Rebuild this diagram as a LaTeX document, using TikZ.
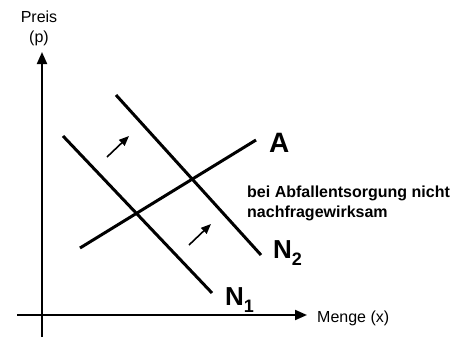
\documentclass[tikz,border=0pt]{standalone}
\usepackage{fontspec}
\setmainfont{Liberation Sans}
\usetikzlibrary{arrows.meta}

\newcommand{\kurve}[1]{N\raisebox{-7pt}{\fontsize{18}{18}\selectfont #1}}

\begin{document}
\begin{tikzpicture}[x=1pt, y=-1pt,
    achse/.style={line width=2pt, -{Triangle[length=12pt,width=10pt]}},
    gerade/.style={line width=3pt},
    schub/.style={line width=1.6pt, -{Triangle[length=10pt,width=8pt]}},
    gross/.style={font=\bfseries\fontsize{26}{26}\selectfont, anchor=base west, inner sep=0pt}]
    \useasboundingbox (0,0) rectangle (461,338);
    % Achsen
    \coordinate (ybot) at (42,337);
    \coordinate (ytop) at (42,52);
    \coordinate (xleft) at (17,315);
    \coordinate (xright) at (307,315);
    \draw[achse] (ybot) -- (ytop);
    \draw[achse] (xleft) -- (xright);
    \node (preis) at (39,28) [align=center, inner sep=0pt, font=\fontsize{16}{20}\selectfont] {Preis\\(p)};
    \node (menge) at (317,318) [anchor=west, inner sep=0pt, font=\fontsize{16}{20}\selectfont] {Menge (x)};
    % Nachfrage und Angebot
    \coordinate (n1a) at (63,136);
    \coordinate (n1b) at (212,293);
    \coordinate (n2a) at (116,95);
    \coordinate (n2b) at (261,255);
    \coordinate (aa) at (80,248);
    \coordinate (ab) at (256,140);
    \draw[gerade] (n1a) -- (n1b);
    \draw[gerade] (n2a) -- (n2b);
    \draw[gerade] (aa) -- (ab);
    % Verschiebung
    \coordinate (s1a) at (107,157);
    \coordinate (s1b) at (129,136);
    \coordinate (s2a) at (189,245);
    \coordinate (s2b) at (211,224);
    \draw[schub] (s1a) -- (s1b);
    \draw[schub] (s2a) -- (s2b);
    \node (labA) at (269,152) [gross, font=\bfseries\fontsize{28}{28}\selectfont] {A};
    \node (labN2) at (273,258) [gross] {\kurve{2}};
    \node (labN1) at (225,305) [gross] {\kurve{1}};
    \node (hinweis) at (247,203) [anchor=west, align=left, inner sep=0pt, font=\bfseries\fontsize{16}{20}\selectfont] {bei Abfallentsorgung nicht\\nachfragewirksam};
\end{tikzpicture}
\end{document}
